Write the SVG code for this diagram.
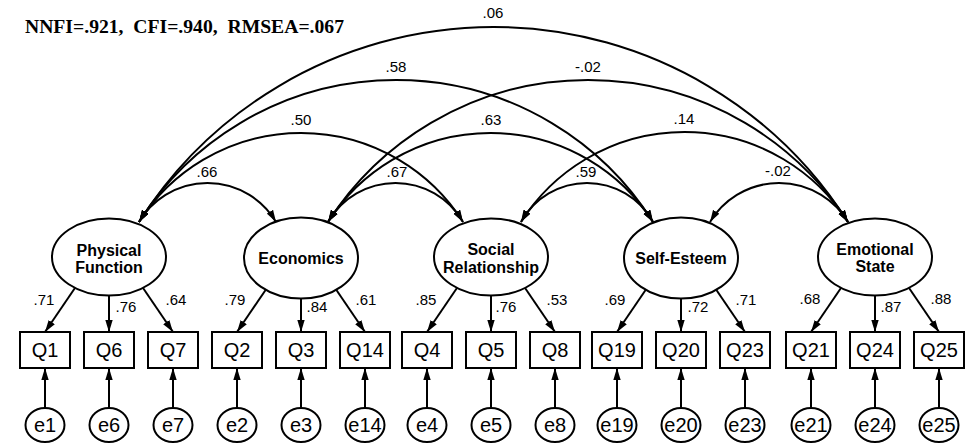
<svg xmlns="http://www.w3.org/2000/svg" width="973" height="443" viewBox="0 0 973 443">
<defs>
<marker id="ah" viewBox="0 0 12 8" refX="12" refY="4" markerWidth="12" markerHeight="8" markerUnits="userSpaceOnUse" orient="auto-start-reverse"><path d="M0,0.3 L12,4 L0,7.7 z" fill="#000"/></marker>
<style>
.c{fill:none;stroke:#000;stroke-width:2}
.arc{marker-start:url(#ah);marker-end:url(#ah)}
.ld{marker-end:url(#ah)}
.lat{fill:#fff;stroke:#000;stroke-width:2}
.ob{fill:#fff;stroke:#000;stroke-width:2}
.lt{font-family:"Liberation Sans",Arial,sans-serif;font-weight:bold;font-size:16px;text-anchor:middle;fill:#000}
.qt{font-family:"Liberation Sans",Arial,sans-serif;font-size:20px;text-anchor:middle;fill:#000}
.et{font-family:"Liberation Sans",Arial,sans-serif;font-size:20px;text-anchor:middle;fill:#000}
.nt{font-family:"Liberation Sans",Arial,sans-serif;font-size:15px;text-anchor:middle;fill:#000}
.hd{font-family:"Liberation Serif","Times New Roman",serif;font-weight:bold;font-size:18px;fill:#000;white-space:pre}
</style>
</defs>
<rect width="973" height="443" fill="#fff"/>
<text class="hd" x="25" y="33" textLength="319" lengthAdjust="spacingAndGlyphs" xml:space="preserve">NNFI=.921,  CFI=.940,  RMSEA=.067</text>

<g id="connectors">
  <!-- covariances -->
  <path class="c arc" d="M139,222 A79.66,79.66 0 0 1 276,222"/>
  <path class="c arc" d="M328,222 A77.91,77.91 0 0 1 463,222"/>
  <path class="c arc" d="M521,222 A75.35,75.35 0 0 1 653,222"/>
  <path class="c arc" d="M710,222 A80.54,80.54 0 0 1 848,222"/>
  <path class="c arc" d="M139,222 A191.94,191.94 0 0 1 463,222"/>
  <path class="c arc" d="M328,222 A192.85,192.85 0 0 1 653,222"/>
  <path class="c arc" d="M521,222 A193.51,193.51 0 0 1 848,222"/>
  <path class="c arc" d="M139,222 A303.57,303.57 0 0 1 653,222"/>
  <path class="c arc" d="M328,222 A309.03,309.03 0 0 1 848,222"/>
  <path class="c arc" d="M139,222 A419.73,419.73 0 0 1 848,222"/>
  <g class="nt">
    <text x="207" y="177">.66</text>
    <text x="397" y="177">.67</text>
    <text x="586" y="177">.59</text>
    <text x="778" y="176">-.02</text>
    <text x="301" y="125">.50</text>
    <text x="491" y="125">.63</text>
    <text x="684" y="124">.14</text>
    <text x="396" y="72">.58</text>
    <text x="588" y="72">-.02</text>
    <text x="493" y="18">.06</text>
  </g>
  <!-- loadings -->
  <path class="c ld" d="M77,285 L45,332"/>
  <path class="c ld" d="M109,290 L109,332"/>
  <path class="c ld" d="M141,285 L173,332"/>
  <path class="c ld" d="M269,285 L237,332"/>
  <path class="c ld" d="M301,292 L301,332"/>
  <path class="c ld" d="M333,285 L365,332"/>
  <path class="c ld" d="M459,285 L427,332"/>
  <path class="c ld" d="M491,290 L491,332"/>
  <path class="c ld" d="M523,285 L555,332"/>
  <path class="c ld" d="M649,285 L617,332"/>
  <path class="c ld" d="M681,292 L681,332"/>
  <path class="c ld" d="M713,285 L745,332"/>
  <path class="c ld" d="M843,285 L811,332"/>
  <path class="c ld" d="M875,290 L875,332"/>
  <path class="c ld" d="M907,285 L939,332"/>
  <g class="nt">
    <text x="44" y="305">.71</text><text x="126" y="312">.76</text><text x="176" y="305">.64</text>
    <text x="235" y="305">.79</text><text x="317" y="312">.84</text><text x="366" y="305">.61</text>
    <text x="426" y="305">.85</text><text x="506" y="312">.76</text><text x="557" y="305">.53</text>
    <text x="615" y="305">.69</text><text x="698" y="312">.72</text><text x="746" y="305">.71</text>
    <text x="810" y="304">.68</text><text x="891" y="312">.87</text><text x="941" y="304">.88</text>
  </g>
  <!-- errors -->
  <path class="c ld" d="M45,412 L45,368"/>
  <path class="c ld" d="M109,412 L109,368"/>
  <path class="c ld" d="M173,412 L173,368"/>
  <path class="c ld" d="M237,412 L237,368"/>
  <path class="c ld" d="M301,412 L301,368"/>
  <path class="c ld" d="M365,412 L365,368"/>
  <path class="c ld" d="M427,412 L427,368"/>
  <path class="c ld" d="M491,412 L491,368"/>
  <path class="c ld" d="M555,412 L555,368"/>
  <path class="c ld" d="M617,412 L617,368"/>
  <path class="c ld" d="M681,412 L681,368"/>
  <path class="c ld" d="M745,412 L745,368"/>
  <path class="c ld" d="M811,412 L811,368"/>
  <path class="c ld" d="M875,412 L875,368"/>
  <path class="c ld" d="M939,412 L939,368"/>
</g>

<g id="PhysicalFunction"><ellipse class="lat" cx="109" cy="257" rx="57" ry="38.5"/><text class="lt" x="109" y="256">Physical</text><text class="lt" x="109" y="273">Function</text></g>
<g id="Economics"><ellipse class="lat" cx="301" cy="258" rx="57" ry="40.5"/><text class="lt" x="301" y="264">Economics</text></g>
<g id="SocialRelationship"><ellipse class="lat" cx="491" cy="257" rx="57" ry="38.5"/><text class="lt" x="491" y="255">Social</text><text class="lt" x="491" y="273">Relationship</text></g>
<g id="SelfEsteem"><ellipse class="lat" cx="681" cy="258" rx="57" ry="40.5"/><text class="lt" x="681" y="264">Self-Esteem</text></g>
<g id="EmotionalState"><ellipse class="lat" cx="875" cy="257" rx="57" ry="38.5"/><text class="lt" x="875" y="255">Emotional</text><text class="lt" x="875" y="272">State</text></g>

<g id="Q1"><rect class="ob" x="20" y="332" width="50" height="36"/><text class="qt" x="45" y="357">Q1</text></g>
<g id="Q6"><rect class="ob" x="84" y="332" width="50" height="36"/><text class="qt" x="109" y="357">Q6</text></g>
<g id="Q7"><rect class="ob" x="148" y="332" width="50" height="36"/><text class="qt" x="173" y="357">Q7</text></g>
<g id="Q2"><rect class="ob" x="212" y="332" width="50" height="36"/><text class="qt" x="237" y="357">Q2</text></g>
<g id="Q3"><rect class="ob" x="276" y="332" width="50" height="36"/><text class="qt" x="301" y="357">Q3</text></g>
<g id="Q14"><rect class="ob" x="340" y="332" width="50" height="36"/><text class="qt" x="365" y="357">Q14</text></g>
<g id="Q4"><rect class="ob" x="402" y="332" width="50" height="36"/><text class="qt" x="427" y="357">Q4</text></g>
<g id="Q5"><rect class="ob" x="466" y="332" width="50" height="36"/><text class="qt" x="491" y="357">Q5</text></g>
<g id="Q8"><rect class="ob" x="530" y="332" width="50" height="36"/><text class="qt" x="555" y="357">Q8</text></g>
<g id="Q19"><rect class="ob" x="592" y="332" width="50" height="36"/><text class="qt" x="617" y="357">Q19</text></g>
<g id="Q20"><rect class="ob" x="656" y="332" width="50" height="36"/><text class="qt" x="681" y="357">Q20</text></g>
<g id="Q23"><rect class="ob" x="720" y="332" width="50" height="36"/><text class="qt" x="745" y="357">Q23</text></g>
<g id="Q21"><rect class="ob" x="786" y="332" width="50" height="36"/><text class="qt" x="811" y="357">Q21</text></g>
<g id="Q24"><rect class="ob" x="850" y="332" width="50" height="36"/><text class="qt" x="875" y="357">Q24</text></g>
<g id="Q25"><rect class="ob" x="914" y="332" width="50" height="36"/><text class="qt" x="939" y="357">Q25</text></g>

<g id="e1"><ellipse class="ob" cx="45" cy="425" rx="19.5" ry="17"/><text class="et" x="45" y="432">e1</text></g>
<g id="e6"><ellipse class="ob" cx="109" cy="425" rx="19.5" ry="17"/><text class="et" x="109" y="432">e6</text></g>
<g id="e7"><ellipse class="ob" cx="173" cy="425" rx="19.5" ry="17"/><text class="et" x="173" y="432">e7</text></g>
<g id="e2"><ellipse class="ob" cx="237" cy="425" rx="19.5" ry="17"/><text class="et" x="237" y="432">e2</text></g>
<g id="e3"><ellipse class="ob" cx="301" cy="425" rx="19.5" ry="17"/><text class="et" x="301" y="432">e3</text></g>
<g id="e14"><ellipse class="ob" cx="365" cy="425" rx="19.5" ry="17"/><text class="et" x="365" y="432">e14</text></g>
<g id="e4"><ellipse class="ob" cx="427" cy="425" rx="19.5" ry="17"/><text class="et" x="427" y="432">e4</text></g>
<g id="e5"><ellipse class="ob" cx="491" cy="425" rx="19.5" ry="17"/><text class="et" x="491" y="432">e5</text></g>
<g id="e8"><ellipse class="ob" cx="555" cy="425" rx="19.5" ry="17"/><text class="et" x="555" y="432">e8</text></g>
<g id="e19"><ellipse class="ob" cx="617" cy="425" rx="19.5" ry="17"/><text class="et" x="617" y="432">e19</text></g>
<g id="e20"><ellipse class="ob" cx="681" cy="425" rx="19.5" ry="17"/><text class="et" x="681" y="432">e20</text></g>
<g id="e23"><ellipse class="ob" cx="745" cy="425" rx="19.5" ry="17"/><text class="et" x="745" y="432">e23</text></g>
<g id="e21"><ellipse class="ob" cx="811" cy="425" rx="19.5" ry="17"/><text class="et" x="811" y="432">e21</text></g>
<g id="e24"><ellipse class="ob" cx="875" cy="425" rx="19.5" ry="17"/><text class="et" x="875" y="432">e24</text></g>
<g id="e25"><ellipse class="ob" cx="939" cy="425" rx="19.5" ry="17"/><text class="et" x="939" y="432">e25</text></g>
</svg>
